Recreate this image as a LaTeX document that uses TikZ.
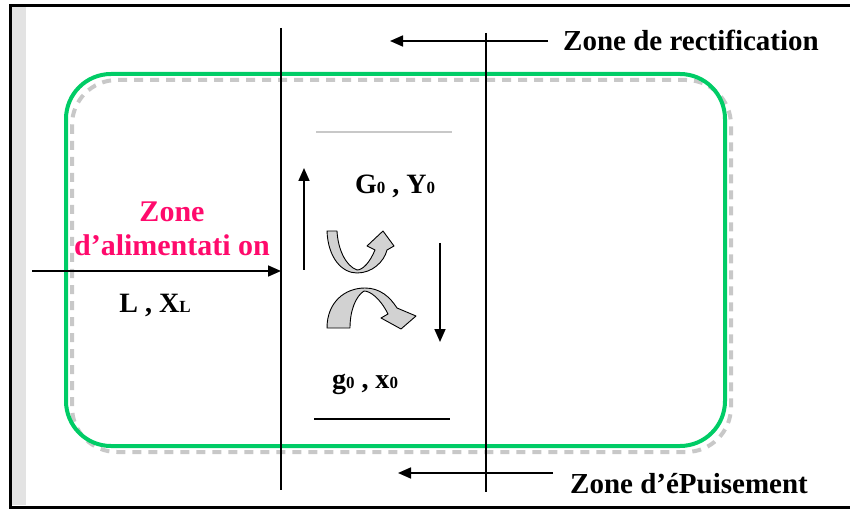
\documentclass[tikz,border=0pt]{standalone}
\usepackage{fontspec}
\setmainfont{Liberation Serif}
\usepackage{tikz}
\usetikzlibrary{arrows.meta,positioning,calc}
\definecolor{ink}{HTML}{000000}
\definecolor{boxgreen}{HTML}{00CC66}
\definecolor{feedpink}{HTML}{FF0A6C}
\definecolor{ribbon}{HTML}{D2D2D2}
\definecolor{haze}{HTML}{C8C8C8}

\newcommand{\sub}[1]{\raisebox{-0.5pt}{\fontsize{17}{17}\selectfont #1}}

\begin{document}
\begin{tikzpicture}[x=1pt,y=-1pt,
  zonetxt/.style={font=\fontsize{29}{32}\selectfont\bfseries,text=ink,inner sep=0pt,anchor=west},
  flowtxt/.style={font=\fontsize{28}{30}\selectfont\bfseries,text=ink,inner sep=0pt},
  pinktxt/.style={font=\fontsize{30}{34}\selectfont\bfseries,text=feedpink,align=center,inner sep=0pt},
  wall/.style={draw=ink,line width=1.2pt},
  flow/.style={draw=ink,line width=1.7pt,-{Triangle[length=13pt,width=11pt]}},
  turn/.style={draw=ink,line width=0.9pt,fill=ribbon,line join=round}
]
\useasboundingbox (0,0) rectangle (850,510);
% frame
\fill[haze!50] (12,7) rectangle (26,505);
\draw[ink,line width=3pt] (870,5.5) -- (10,5.5) -- (10,507) -- (870,507);

% green box and its shadow
\draw[haze,line width=4pt,dash pattern=on 9pt off 7pt,rounded corners=45pt] (72,80) rectangle (731,452);
\draw[boxgreen,line width=4pt,rounded corners=45pt] (66,74) rectangle (725,446);

% walls
\coordinate (wlt) at (281,28);
\coordinate (wlb) at (281,490);
\coordinate (wrt) at (486,33);
\coordinate (wrb) at (486,492);
\draw[wall] (wlt) -- (wlb);
\draw[wall] (wrt) -- (wrb);

% plate lines
\coordinate (pta) at (316,132);
\coordinate (ptb) at (452,132);
\coordinate (pba) at (314,419);
\coordinate (pbb) at (450,419);
\draw[haze,line width=2.5pt] (pta) -- (ptb);
\draw[ink,line width=1.4pt] (pba) -- (pbb);

% zone labels
\node[zonetxt] (rect) at (563,40) {Zone de rectification};
\node[zonetxt] (epui) at (570,484) {Zone d’éPuisement};
\coordinate (rectend) at (390,41);
\coordinate (epuiend) at (398,473);
\draw[flow] (rect.west |- rectend) ++(-15,0) -- (rectend);
\draw[flow] (epui.west |- epuiend) ++(-17,0) -- (epuiend);

% feed
\node[pinktxt] (feed) at (172,229) {Zone\\d’alimentati on};
\coordinate (feedin) at (32,271);
\coordinate (feedout) at (281,271);
\draw[flow] (feedin) -- (feedout);
\node[flowtxt] (liq) at (155,305) {L , X\sub{L}};

% vapour and liquid streams
\coordinate (upa) at (304,270);
\coordinate (upb) at (304,168);
\coordinate (dna) at (440,243);
\coordinate (dnb) at (440,342);
\draw[flow] (upa) -- (upb);
\draw[flow] (dna) -- (dnb);
\node[flowtxt] (vap) at (395,186) {G\sub{0} , Y\sub{0}};
\node[flowtxt] (liq0) at (365,384) {g\sub{0} , x\sub{0}};

% exchange ribbons
\draw[turn] (327,231) .. controls (328,258) and (342,273) .. (357,273)
  .. controls (372,273) and (384,262) .. (387,250) -- (394,246) -- (383,231)
  -- (367,246) -- (375,250) .. controls (370,262) and (363,270) .. (357,270)
  .. controls (346,266) and (338,250) .. (337,231) -- cycle;
\draw[turn] (327,328) .. controls (327,302) and (345,288) .. (365,288)
  .. controls (380,288) and (390,297) .. (397,308) -- (416,316) -- (401,329)
  -- (381,318) -- (388,314) .. controls (380,298) and (370,291) .. (364,291)
  .. controls (356,296) and (350,310) .. (350,328) -- cycle;
\end{tikzpicture}
\end{document}
